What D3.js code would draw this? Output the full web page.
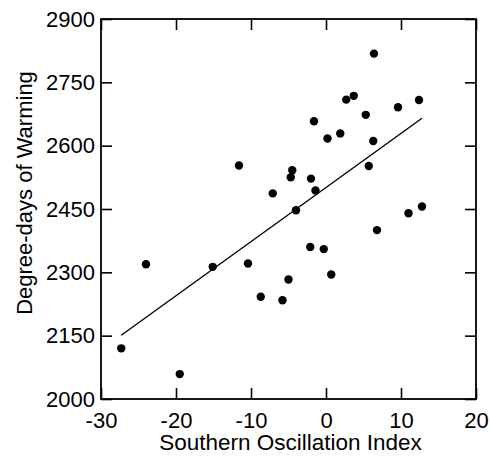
<!DOCTYPE html>
<html>
<head>
<meta charset="utf-8">
<script src="https://cdn.jsdelivr.net/npm/d3@7"></script>
<style>
  body { margin: 0; background: #fff; }
  text { font-family: "Liberation Sans", Arial, sans-serif; fill: #000; }
</style>
</head>
<body>
<script>
'use strict';
// values
const soi = [-27.3, -24.0, -19.5, -15.1, -11.6, -10.4, -8.7, -7.1, -5.8, -5.0, -4.7,
  -4.5, -4.0, -2.1, -2.0, -1.6, -1.4, -0.3, 0.2, 0.7, 1.9, 2.7, 3.7, 5.3, 5.7, 6.3,
  6.4, 6.8, 9.6, 11.0, 12.4, 12.8];
const degreeDays = [2120, 2319, 2059, 2313, 2553, 2321, 2242, 2487, 2234, 2283, 2525,
  2542, 2447, 2360, 2522, 2658, 2494, 2355, 2617, 2295, 2629, 2709, 2718, 2673, 2552, 2611,
  2818, 2400, 2691, 2440, 2708, 2456];
// fitted line ends
const fitX = [-27.3, 12.8];
const fitY = [2151, 2665];
const xTicks = [-30, -20, -10, 0, 10, 20];
const yTicks = [2000, 2150, 2300, 2450, 2600, 2750, 2900];

(function() {
  const W = 490, H = 456;
  const left = 101, right = 476, top = 19, bottom = 399;

  const svg = d3.select('body').append('svg')
    .attr('width', W)
    .attr('height', H);

  const x = d3.scaleLinear().domain([-30, 20]).range([left, right]);
  const y = d3.scaleLinear().domain([2000, 2900]).range([bottom, top]);
  const tickLen = 11;
  // plain labels: no thousands comma, ascii hyphen for minus
  const fmt = d => String(d);

  // axes with inward ticks on all four sides
  const axes = [
    { ax: d3.axisBottom(x).tickValues(xTicks), t: 'translate(0,' + bottom + ')', labels: true, pad: 13 },
    { ax: d3.axisTop(x).tickValues(xTicks), t: 'translate(0,' + top + ')', labels: false, pad: 6 },
    { ax: d3.axisLeft(y).tickValues(yTicks), t: 'translate(' + left + ',0)', labels: true, pad: 6 },
    { ax: d3.axisRight(y).tickValues(yTicks), t: 'translate(' + right + ',0)', labels: false, pad: 6 }
  ];
  axes.forEach(a => {
    const g = svg.append('g')
      .attr('transform', a.t)
      .call(a.ax.tickFormat(fmt).tickSizeInner(-tickLen).tickSizeOuter(0).tickPadding(a.pad));
    g.select('.domain').remove();
    g.selectAll('line').attr('stroke', '#000').attr('stroke-width', 1.6);
    if (a.labels) {
      g.selectAll('text').style('font-size', '22px').attr('fill', '#000');
    } else {
      g.selectAll('text').remove();
    }
  });

  svg.append('rect')
    .attr('x', left).attr('y', top)
    .attr('width', right - left).attr('height', bottom - top)
    .attr('fill', 'none').attr('stroke', '#000').attr('stroke-width', 1.8);

  // regression line
  const line = d3.line().x(d => x(d[0])).y(d => y(d[1]));
  svg.append('path')
    .datum(fitX.map((v, i) => [v, fitY[i]]))
    .attr('d', line)
    .attr('fill', 'none')
    .attr('stroke', '#000')
    .attr('stroke-width', 1.4);

  // points
  svg.selectAll('.dot')
    .data(soi.map((v, i) => [v, degreeDays[i]]))
    .enter()
    .append('circle')
      .attr('class', 'dot')
      .attr('cx', d => x(d[0]))
      .attr('cy', d => y(d[1]))
      .attr('r', 4.2)
      .attr('fill', '#000');

  // axis titles
  svg.append('text')
    .attr('x', (left + right) / 2 + 2)
    .attr('y', 450)
    .attr('text-anchor', 'middle')
    .style('font-size', '22.5px')
    .text('Southern Oscillation Index');

  svg.append('text')
    .attr('transform', 'translate(32,' + 193 + ')rotate(-90)')
    .attr('text-anchor', 'middle')
    .style('font-size', '22px')
    .text('Degree-days of Warming');
})();
</script>
</body>
</html>
